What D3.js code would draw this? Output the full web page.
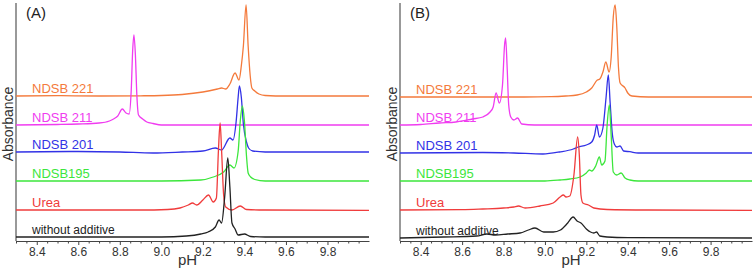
<!DOCTYPE html>
<html>
<head>
<meta charset="utf-8">
<script src="https://cdn.jsdelivr.net/npm/d3@7"></script>
<style>
  body { margin: 0; background: #fff; }
  text { font-family: "Liberation Sans", Arial, sans-serif; }
</style>
</head>
<body>
<div id="chart"></div>
<script>
// series names, top to bottom, and their colours
var labels = ["NDSB 221", "NDSB 211", "NDSB 201", "NDSB195", "Urea", "without additive"];
var colors = ["#f47a3c", "#f03cf0", "#3232e6", "#3ce63c", "#f03c3c", "#222222"];
var panelNames = ["(A)", "(B)"];
var tickValues = [8.4, 8.6, 8.8, 9.0, 9.2, 9.4, 9.6, 9.8];

// stacking offsets (arbitrary absorbance units)
var offsetsA = [145, 116, 89, 60, 31, 4];
var offsetsB = [144, 116, 88, 60, 31, 3];

// panel A spectra [pH, absorbance above own baseline]
var ndsb221A = [[8.30,0],[8.50,0.3],[8.70,0],[8.90,0.2],[9.00,0.5],[9.10,1.5],[9.20,4],[9.27,7],[9.29,8],[9.31,7],[9.33,12],[9.355,23],[9.374,16],[9.385,30],[9.395,50],[9.408,91],[9.418,50],[9.428,20],[9.436,8],[9.45,5],[9.47,2],[9.50,0.5],[9.60,0],[10.0,0]];
var ndsb211A = [[8.30,0],[8.50,0.5],[8.60,1],[8.70,2],[8.75,4],[8.77,6],[8.79,9],[8.812,16],[8.83,12],[8.845,11],[8.855,35],[8.862,75],[8.868,90],[8.875,70],[8.882,30],[8.89,10],[8.91,6],[8.93,3],[8.96,1.5],[9.00,0],[10.0,0]];
var ndsb201A = [[8.30,0],[8.60,0.5],[8.80,0],[8.96,-1],[9.10,0],[9.20,1],[9.26,4],[9.29,2],[9.33,14],[9.345,12],[9.36,30],[9.37,55],[9.376,66],[9.385,55],[9.395,28],[9.41,10],[9.42,4],[9.44,1],[9.50,0],[10.0,0]];
var ndsb195A = [[8.30,0],[9.00,0],[9.19,1],[9.25,4],[9.30,9],[9.33,16],[9.35,13],[9.37,30],[9.38,60],[9.39,75],[9.40,60],[9.41,25],[9.418,8],[9.43,4],[9.45,1.5],[9.50,0],[10.0,0]];
var ureaA = [[8.30,0],[8.90,0],[9.03,0.5],[9.09,2],[9.13,5],[9.15,7],[9.17,5],[9.20,10],[9.227,15],[9.25,8],[9.265,12],[9.275,60],[9.283,87],[9.29,60],[9.30,15],[9.31,3],[9.34,0],[9.38,4],[9.41,0.5],[9.50,0],[10.0,-0.3]];
var noneA = [[8.30,0],[9.00,0],[9.12,1],[9.19,3],[9.225,5],[9.26,10],[9.278,17],[9.29,14],[9.305,40],[9.32,79],[9.33,50],[9.34,14],[9.355,8],[9.37,2],[9.40,3],[9.43,0.5],[9.50,0],[10.0,0]];

// panel B spectra
var ndsb221B = [[8.30,0],[8.90,0],[9.03,0.3],[9.10,1],[9.155,2],[9.20,5],[9.226,9],[9.253,17],[9.265,18],[9.28,25],[9.294,35],[9.31,25],[9.32,40],[9.33,80],[9.339,92],[9.347,70],[9.355,30],[9.363,14],[9.387,9],[9.40,4],[9.42,1],[9.50,0],[10.0,0]];
var ndsb211B = [[8.30,0],[8.40,0.5],[8.49,2],[8.57,3],[8.65,6],[8.70,8],[8.735,13],[8.75,18],[8.764,32],[8.78,22],[8.795,40],[8.805,80],[8.81,87],[8.817,60],[8.825,20],[8.835,8],[8.85,5],[8.868,7],[8.888,1],[8.95,0],[10.0,0]];
var ndsb201B = [[8.30,0],[8.70,0.5],[8.85,0],[8.99,-1],[9.07,1],[9.137,4],[9.16,6],[9.20,8],[9.226,11],[9.24,18],[9.25,28],[9.263,16],[9.28,25],[9.295,55],[9.306,78],[9.315,50],[9.325,20],[9.335,9],[9.347,6],[9.363,7],[9.38,2],[9.41,1.3],[9.45,0],[10.0,0]];
var ndsb195B = [[8.30,0],[9.00,0],[9.073,1],[9.12,2],[9.17,4],[9.20,8],[9.215,11],[9.226,10],[9.245,15],[9.263,24],[9.274,16],[9.29,20],[9.30,55],[9.311,76],[9.32,45],[9.33,9],[9.347,6],[9.368,8],[9.387,3],[9.41,1],[9.45,0],[10.0,0]];
var ureaB = [[8.30,0],[8.60,0.3],[8.70,1],[8.80,2],[8.85,3],[8.872,4],[8.904,2],[8.976,4],[9.04,7],[9.073,13],[9.089,15],[9.102,13],[9.12,14],[9.14,35],[9.158,73],[9.166,55],[9.174,15],[9.183,7],[9.21,5],[9.236,2],[9.30,0.5],[9.50,0],[10.0,-0.3]];
var noneB = [[8.30,0],[8.51,1],[8.67,2],[8.72,4],[8.76,3],[8.82,4],[8.88,5],[8.92,8],[8.952,10],[8.994,6],[9.04,6],[9.075,8],[9.11,15],[9.136,21],[9.155,17],[9.174,15],[9.20,9],[9.22,6],[9.236,5],[9.249,6],[9.265,2],[9.30,1],[9.40,0.3],[10.0,0]];

var seriesA = [ndsb221A, ndsb211A, ndsb201A, ndsb195A, ureaA, noneA];
var seriesB = [ndsb221B, ndsb211B, ndsb201B, ndsb195B, ureaB, noneB];

var W = 754, H = 270;
var svg = d3.select("#chart").append("svg")
    .attr("width", W)
    .attr("height", H);

// draw one panel
function drawPanel(left, right, series, offsets, name) {
  var top = 3, bottom = 241;
  var x = d3.scaleLinear().domain([8.3, 10.0]).range([left, right]);
  var y = d3.scaleLinear().domain([0, 238]).range([bottom, top]);

  var g = svg.append("g");

  // y axis (no ticks)
  g.append("line")
    .attr("x1", left).attr("x2", left)
    .attr("y1", top).attr("y2", bottom)
    .attr("stroke", "#555").attr("stroke-width", 1.2);

  // minor ticks
  var minor = d3.range(8.3, 10.0001, 0.05).filter(function(v) {
    return Math.abs(v * 5 - Math.round(v * 5)) > 1e-6;
  });
  g.append("g")
    .attr("transform", "translate(0," + bottom + ")")
    .call(d3.axisBottom(x).tickValues(minor).tickSize(2.5).tickFormat(""))
    .call(function(a) { a.select(".domain").remove(); })
    .selectAll("line").attr("stroke", "#444");

  // major ticks + labels
  var ax = g.append("g")
    .attr("transform", "translate(0," + bottom + ")")
    .call(d3.axisBottom(x).tickValues(tickValues).tickSize(4).tickSizeOuter(0).tickPadding(2)
      .tickFormat(d3.format(".1f")));
  ax.select(".domain").attr("stroke", "#444").attr("stroke-width", 1.2);
  ax.selectAll("line").attr("stroke", "#444");
  ax.selectAll("text")
    .attr("font-size", 12)
    .attr("fill", "#333")
    .style("font-family", "'Liberation Sans', Arial, sans-serif");

  // curves
  var line = d3.line()
    .x(function(d) { return x(d[0]); })
    .y(function(d) { return y(d[1]); })
    .curve(d3.curveMonotoneX);

  series.forEach(function(s, i) {
    var shifted = s.map(function(p) { return [p[0], p[1] + offsets[i]]; });
    g.append("path")
      .attr("d", line(shifted))
      .attr("fill", "none")
      .attr("stroke", colors[i])
      .attr("stroke-width", 1.3)
      .attr("stroke-linejoin", "round");
  });

  // series labels
  labels.forEach(function(lab, i) {
    g.append("text")
      .attr("x", left + 16)
      .attr("y", y(offsets[i]) - 3.5)
      .attr("font-size", i === 5 ? 12 : 13)
      .attr("fill", colors[i])
      .text(lab);
  });

  // panel tag
  g.append("text")
    .attr("x", left + 10)
    .attr("y", 18)
    .attr("font-size", 15)
    .attr("fill", "#222")
    .text(name);

  // axis titles
  g.append("text")
    .attr("x", (left + right) / 2 - 5)
    .attr("y", 265)
    .attr("text-anchor", "middle")
    .attr("font-size", 15)
    .attr("fill", "#333")
    .text("pH");

  g.append("text")
    .attr("transform", "translate(" + (left - 3) + ",124) rotate(-90)")
    .attr("text-anchor", "middle")
    .attr("font-size", 14)
    .attr("fill", "#333")
    .text("Absorbance");
}

drawPanel(16, 369, seriesA, offsetsA, panelNames[0]);
drawPanel(400, 752, seriesB, offsetsB, panelNames[1]);
</script>
</body>
</html>
